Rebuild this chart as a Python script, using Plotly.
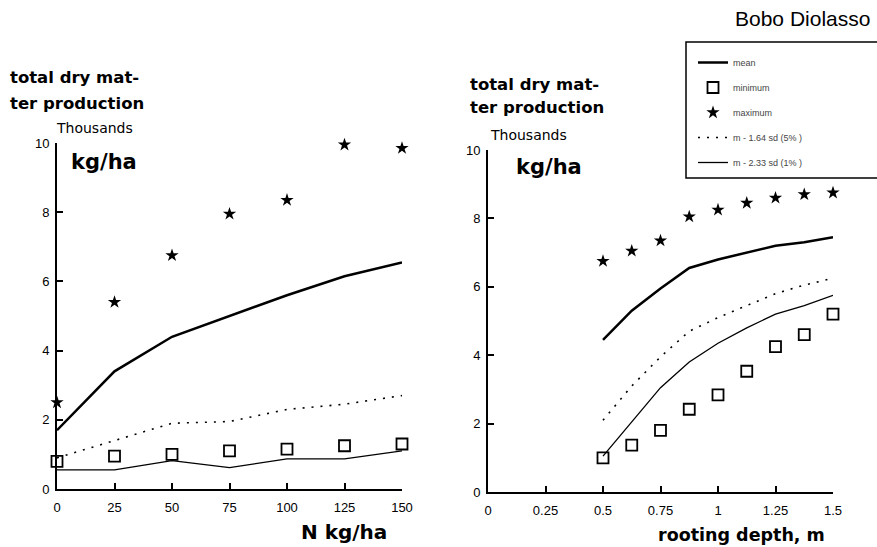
import plotly.graph_objects as go

W, H = 877, 547

# ---- data: left panel (N kg/ha)
n_levels = [0, 25, 50, 75, 100, 125, 150]
n_mean = [1.7, 3.4, 4.4, 5.0, 5.6, 6.15, 6.55]
n_min = [0.8, 0.95, 1.0, 1.1, 1.15, 1.25, 1.3]
n_max = [2.5, 5.4, 6.75, 7.95, 8.35, 9.95, 9.85]
n_m164 = [0.9, 1.4, 1.9, 1.95, 2.3, 2.45, 2.7]
n_m233 = [0.55, 0.55, 0.82, 0.62, 0.87, 0.87, 1.1]

# ---- data: right panel (rooting depth, m)
depth = [0.5, 0.625, 0.75, 0.875, 1.0, 1.125, 1.25, 1.375, 1.5]
d_mean = [4.45, 5.3, 5.95, 6.55, 6.8, 7.0, 7.2, 7.3, 7.45]
d_min = [1.0, 1.37, 1.8, 2.42, 2.84, 3.53, 4.25, 4.6, 5.2]
d_max = [6.75, 7.05, 7.35, 8.05, 8.25, 8.45, 8.6, 8.7, 8.75]
d_m164 = [2.1, 3.1, 3.95, 4.7, 5.1, 5.45, 5.8, 6.05, 6.25]
d_m233 = [1.05, 2.05, 3.05, 3.8, 4.35, 4.8, 5.2, 5.45, 5.75]

x_ticks_left = [0, 25, 50, 75, 100, 125, 150]
x_ticks_right = [0, 0.25, 0.5, 0.75, 1.0, 1.25, 1.5]
x_ticktext_right = ["0", "0.25", "0.5", "0.75", "1", "1.25", "1.5"]
y_ticks = [0, 2, 4, 6, 8, 10]

legend_names = ["mean", "minimum", "maximum", "m - 1.64 sd (5% )", "m - 2.33 sd (1% )"]

FONT = "Liberation Sans, Arial, sans-serif"
WIDE = "DejaVu Sans, Verdana, sans-serif"
fig = go.Figure()


def add_panel(x, mean, mn, mx, m164, m233, xa, ya, show):
    fig.add_trace(go.Scatter(x=x, y=mean, mode="lines", name=legend_names[0],
                             line=dict(color="black", width=2.5), xaxis=xa, yaxis=ya,
                             showlegend=show, legendgroup="a", cliponaxis=False))
    fig.add_trace(go.Scatter(x=x, y=mn, mode="markers", name=legend_names[1],
                             marker=dict(symbol="square-open", size=11, color="black",
                                         line=dict(width=1.8, color="black")),
                             xaxis=xa, yaxis=ya, showlegend=show, legendgroup="b", cliponaxis=False))
    fig.add_trace(go.Scatter(x=x, y=mx, mode="markers", name=legend_names[2],
                             marker=dict(symbol="star", size=10, color="black"),
                             xaxis=xa, yaxis=ya, showlegend=show, legendgroup="c", cliponaxis=False))
    fig.add_trace(go.Scatter(x=x, y=m164, mode="lines", name=legend_names[3],
                             line=dict(color="black", width=1.6, dash="2px,7px"),
                             xaxis=xa, yaxis=ya, showlegend=show, legendgroup="d", cliponaxis=False))
    fig.add_trace(go.Scatter(x=x, y=m233, mode="lines", name=legend_names[4],
                             line=dict(color="black", width=1.3),
                             xaxis=xa, yaxis=ya, showlegend=show, legendgroup="e", cliponaxis=False))


add_panel(n_levels, n_mean, n_min, n_max, n_m164, n_m233, "x", "y", True)
add_panel(depth, d_mean, d_min, d_max, d_m164, d_m233, "x2", "y2", False)

axis_common = dict(showline=True, linecolor="black", linewidth=2, ticks="inside",
                   ticklen=6, tickwidth=1.5, tickcolor="black", showgrid=False,
                   zeroline=False, tickfont=dict(family=FONT, size=13, color="black"))
x_extra = dict(ticklabelstandoff=5)
y_extra = dict(ticklabelstandoff=3)

fig.update_layout(
    width=W, height=H, autosize=False,
    margin=dict(l=0, r=0, t=0, b=0, pad=0, autoexpand=False),
    paper_bgcolor="white", plot_bgcolor="white",
    font=dict(family=FONT, color="black"),
    xaxis=dict(domain=[57 / W, 402 / W], range=[0, 150], tickvals=x_ticks_left,
               anchor="y", **axis_common, **x_extra),
    yaxis=dict(domain=[(H - 489) / H, (H - 143) / H], range=[0, 10], tickvals=y_ticks,
               anchor="x", **axis_common, **y_extra),
    xaxis2=dict(domain=[488 / W, 833 / W], range=[0, 1.5], tickvals=x_ticks_right,
                ticktext=x_ticktext_right, anchor="y2", **axis_common, **x_extra),
    yaxis2=dict(domain=[(H - 492) / H, (H - 150) / H], range=[0, 10], tickvals=y_ticks,
                anchor="x2", **axis_common, **y_extra),
    legend=dict(x=693 / W, y=(H - 48) / H, xanchor="left", yanchor="top",
                borderwidth=0, bgcolor="rgba(0,0,0,0)",
                font=dict(family=FONT, size=9, color="#444"),
                tracegroupgap=6, itemwidth=30),
)

# legend frame
fig.add_shape(type="rect", xref="paper", yref="paper",
              x0=686 / W, x1=1.01, y0=(H - 178) / H, y1=(H - 42) / H,
              line=dict(color="black", width=1.5), fillcolor="rgba(0,0,0,0)", layer="below")


def txt(text, x, y, size, anchor="left", bold=False, family=WIDE):
    fig.add_annotation(text=("<b>%s</b>" % text) if bold else text,
                       x=x / W, y=(H - y) / H, xref="paper", yref="paper",
                       xanchor=anchor, yanchor="middle", showarrow=False,
                       font=dict(family=family, size=size, color="black"), align="left")


txt("total dry mat-", 8, 78, 16.5, bold=True)
txt("ter production", 8, 103, 16.5, bold=True)
txt("Thousands", 54, 128, 14)
txt("kg/ha", 69, 162, 21, bold=True)

txt("total dry mat-", 468, 84, 16.5, bold=True)
txt("ter production", 468, 108, 16.5, bold=True)
txt("Thousands", 488, 135, 14)
txt("kg/ha", 514, 167, 21, bold=True)

txt("N kg/ha", 299, 532, 20, bold=True)
txt("rooting depth, m", 656, 535, 17.5, bold=True)
txt("Bobo Diolasso", 733, 19, 21, family=FONT)

fig.write_html("out.html", config={"displayModeBar": False},
               post_script="document.body.style.margin='0';document.body.style.overflow='hidden';")
